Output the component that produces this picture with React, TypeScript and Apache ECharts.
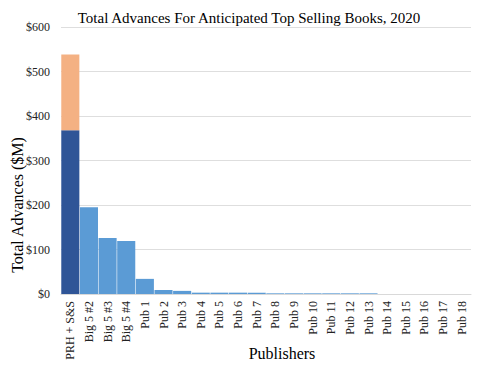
import React, { useEffect, useRef } from "react";
import * as echarts from "echarts";

const categories = [
  "PRH + S&S", "Big 5 #2", "Big 5 #3", "Big 5 #4",
  "Pub 1", "Pub 2", "Pub 3", "Pub 4", "Pub 5", "Pub 6", "Pub 7", "Pub 8", "Pub 9",
  "Pub 10", "Pub 11", "Pub 12", "Pub 13", "Pub 14", "Pub 15", "Pub 16", "Pub 17", "Pub 18",
];
const baseValues = [368, 195, 126, 119, 34, 9, 7, 3, 3, 3, 3, 1.5, 1.5, 1.5, 1.5, 1.5, 1.5, 0, 0, 0, 0, 0];
const extraValues = [170, 0, 0, 0, 0, 0, 0, 0, 0, 0, 0, 0, 0, 0, 0, 0, 0, 0, 0, 0, 0, 0];
const yTicks = [0, 100, 200, 300, 400, 500, 600];

const FONT = "Times New Roman, Liberation Serif, DejaVu Serif, serif";

export default function App() {
  const ref = useRef<HTMLDivElement>(null);
  useEffect(() => {
    if (!ref.current) return;
    const chart = echarts.init(ref.current, undefined, { renderer: "svg" });
    chart.setOption({
      animation: false,
      textStyle: { fontFamily: FONT },
      title: {
        text: "Total Advances For Anticipated Top Selling Books, 2020",
        left: 244,
        textAlign: "center",
        top: 5,
        textStyle: { fontFamily: FONT, fontSize: 15, fontWeight: "normal", color: "#000" },
      },
      grid: { left: 61, right: 11, top: 27, bottom: 71 },
      xAxis: {
        type: "category",
        data: categories,
        axisLine: { show: true, lineStyle: { color: "#d9d9d9" } },
        axisTick: { show: false },
        axisLabel: {
          rotate: 90,
          interval: 0,
          fontFamily: FONT,
          fontSize: 12,
          color: "#222",
          margin: 7,
        },
      },
      yAxis: {
        type: "value",
        min: yTicks[0],
        max: yTicks[yTicks.length - 1],
        interval: 100,
        axisLine: { show: false },
        axisTick: { show: false },
        splitLine: { lineStyle: { color: "#dedede" } },
        axisLabel: {
          formatter: (v: number) => "$" + v,
          fontFamily: FONT,
          fontSize: 12,
          color: "#222",
          margin: 11,
        },
      },
      series: [
        {
          type: "bar",
          stack: "t",
          barCategoryGap: "3%",
          data: baseValues.map((v, i) => ({
            value: v,
            itemStyle: { color: i === 0 ? "#2F5597" : "#5B9BD5" },
          })),
        },
        {
          type: "bar",
          stack: "t",
          barCategoryGap: "3%",
          data: extraValues,
          itemStyle: { color: "#F4B183" },
        },
      ],
      graphic: [
        {
          type: "text",
          x: 17,
          y: 205,
          rotation: Math.PI / 2,
          style: {
            text: "Total Advances ($M)",
            fontFamily: FONT,
            fontSize: 16,
            fill: "#000",
            align: "center",
            verticalAlign: "middle",
          },
        },
        {
          type: "text",
          x: 282,
          y: 353,
          style: {
            text: "Publishers",
            fontFamily: FONT,
            fontSize: 16,
            fill: "#000",
            align: "center",
            verticalAlign: "middle",
          },
        },
      ],
    });
    return () => chart.dispose();
  }, []);
  return <div ref={ref} style={{ width: 482, height: 365, position: "absolute", left: 0, top: 0 }} />;
}
